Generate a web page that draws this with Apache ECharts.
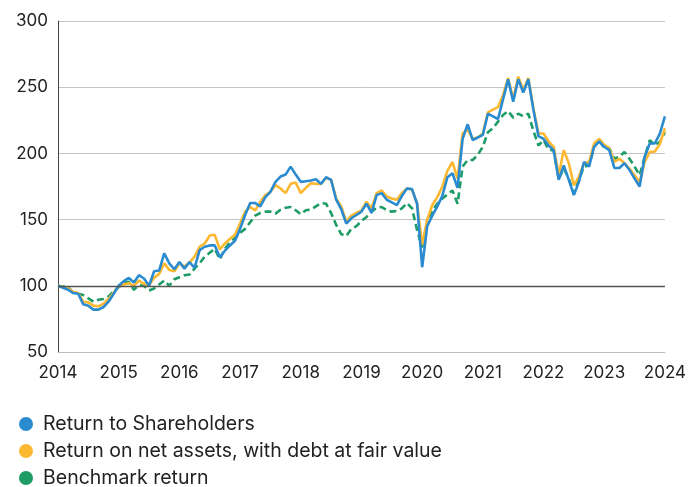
<!DOCTYPE html>
<html>
<head>
<meta charset="utf-8">
<script src="https://cdn.jsdelivr.net/npm/echarts@6/dist/echarts.min.js"></script>
<style>
  html, body { margin: 0; padding: 0; background: #fff; }
  #chart { width: 689px; height: 487px; }
</style>
</head>
<body>
<div id="chart"></div>
<script>
// monthly values, Jan 2014 .. Jan 2024, rebased to 100
var startYear = 2014;
var seriesNames = ['Return to Shareholders', 'Return on net assets, with debt at fair value', 'Benchmark return'];

var shareholders = [
  100, 98.5, 97, 94.5, 94, 86, 85, 82, 82, 84, 88, 94,
  100, 103.5, 106, 102.5, 108, 105.5, 100, 111, 111.5, 124.5, 117, 112.5,
  118, 113, 118, 113.5, 127, 129.5, 130.5, 130.5, 121.5, 126.5, 130.5, 134,
  143, 153.5, 162.5, 162.5, 160, 167, 171, 178.5, 182.5, 184, 190, 184,
  178.5, 179, 179.5, 180.5, 177, 182, 180, 165, 158, 147, 151, 153.5,
  156, 162, 155, 168.5, 170, 165, 163, 161, 168, 173.5, 173, 162,
  114, 145, 153, 160, 168, 182, 185, 174, 211, 222, 210, 212,
  214, 230, 228, 226, 241, 256, 239, 256, 246, 256, 233, 213,
  211, 206, 202.5, 180, 191, 180, 168.5, 178.5, 193.5, 190, 205, 209,
  205, 202.5, 189, 189, 192.5, 187.5, 181, 175, 197.5, 207.5, 207.5, 215,
  228
];

var netAssets = [
  100, 99, 98, 95.5, 94.5, 88, 87.5, 85, 84.5, 86.5, 90, 95,
  99.5, 101, 102, 100, 104, 101.5, 100.5, 106, 109, 117, 112, 111,
  117, 114.5, 117.5, 122, 129.5, 132, 138, 138.5, 127.5, 132, 135.5, 138.5,
  147, 156, 159.5, 157, 163.5, 168.5, 171, 176, 173.5, 170, 177, 178,
  170, 174, 177.5, 177, 177, 181.5, 180, 166, 160, 148.5, 153, 155,
  157, 163.5, 158.5, 170, 172, 167.5, 166, 165, 170, 173.5, 172.5, 162,
  131, 150, 161, 167, 175, 187, 193.5, 181, 215, 218, 211, 212,
  215, 231, 233, 235, 244, 257, 241, 258, 248, 257, 234, 215,
  215, 209, 205, 183.5, 202.5, 192.5, 176, 182.5, 192.5, 193.5, 207.5, 211,
  206.5, 204, 193.5, 196, 192.5, 188.5, 183.5, 178.5, 193.5, 201, 201.5, 207,
  219
];

var benchmark = [
  100, 99.5, 99, 95, 94, 93, 90.5, 88, 89.5, 90, 92, 96,
  99, 102, 103, 97, 100.5, 100, 96.5, 98, 101, 104, 100, 105,
  106.5, 108, 108.5, 113, 117, 122, 125, 128, 120, 128, 133, 136,
  140, 143, 148, 153, 155, 156, 156, 154.5, 157.5, 159, 159.5, 157,
  154, 157, 157.5, 160, 162.5, 162, 155, 146, 139, 137.5, 143, 145,
  149, 152, 156, 159, 159.5, 157, 156, 156.5, 158.5, 162.5, 158.5, 142,
  129, 148, 157, 162, 166, 169, 172, 162, 190, 195, 195, 199,
  205, 216, 219, 224, 229, 232, 227, 230, 228, 230, 217, 206,
  210, 203, 202, 181, 188.5, 181, 170, 180, 190, 191, 205, 210,
  204, 204, 196, 197.5, 201, 196, 190, 183.5, 197.5, 210, 206.5, 208.5,
  216
];

var yTicks = [50, 100, 150, 200, 250, 300];
var colors = ['#2a8bd1', '#fdb831', '#1e9c66'];

function toPoints(values) {
  return values.map(function (v, i) { return [startYear + i / 12, v]; });
}

var chart = echarts.init(document.getElementById('chart'));
var fontFamily = 'Inter, "Noto Sans", sans-serif';

var option = {
  animation: false,
  textStyle: { fontFamily: fontFamily },
  grid: { left: 58, right: 23, top: 21, bottom: 135 },
  legend: {
    orient: 'vertical',
    left: 19,
    top: 414,
    height: 200,
    padding: 0,
    icon: 'circle',
    itemWidth: 14,
    itemHeight: 14,
    itemGap: 7,
    textStyle: { fontSize: 19.5, lineHeight: 20, color: '#222', fontFamily: fontFamily, padding: [0, 0, 0, 5] },
    data: seriesNames
  },
  xAxis: {
    type: 'value',
    min: 2014,
    max: 2024,
    interval: 1,
    axisLine: { show: true, lineStyle: { color: '#bdbdbd' } },
    axisTick: { show: false },
    splitLine: { show: false },
    axisLabel: {
      fontSize: 17, color: '#222', margin: 12,
      formatter: function (v) { return String(v); }
    }
  },
  yAxis: {
    type: 'value',
    min: yTicks[0],
    max: yTicks[yTicks.length - 1],
    interval: 50,
    axisLine: { show: true, lineStyle: { color: '#444', width: 1 } },
    axisTick: { show: false },
    splitLine: { show: true, lineStyle: { color: '#c4c4c4', width: 1 } },
    axisLabel: { fontSize: 17, color: '#222', margin: 10 }
  },
  series: [
    {
      name: seriesNames[2],
      type: 'line',
      symbol: 'none',
      data: toPoints(benchmark),
      z: 2,
      itemStyle: { color: colors[2] },
      lineStyle: { width: 2.6, color: colors[2], type: [7, 4] },
      markLine: {
        silent: true,
        symbol: 'none',
        label: { show: false },
        lineStyle: { color: '#555', width: 1.3, type: 'solid' },
        data: [{ yAxis: 100 }]
      }
    },
    {
      name: seriesNames[1],
      type: 'line',
      symbol: 'none',
      data: toPoints(netAssets),
      z: 3,
      itemStyle: { color: colors[1] },
      lineStyle: { width: 2.6, color: colors[1] }
    },
    {
      name: seriesNames[0],
      type: 'line',
      symbol: 'none',
      data: toPoints(shareholders),
      z: 4,
      itemStyle: { color: colors[0] },
      lineStyle: { width: 2.6, color: colors[0] }
    }
  ]
};

chart.setOption(option);
</script>
</body>
</html>
